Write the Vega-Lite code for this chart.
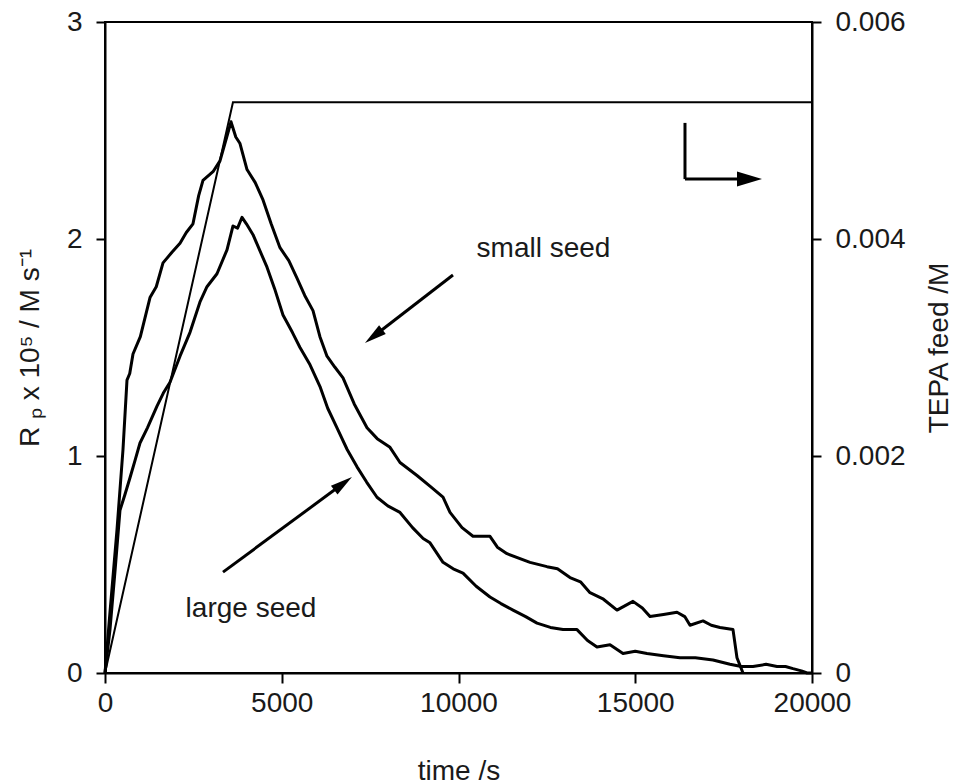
{
  "$schema": "https://vega.github.io/schema/vega-lite/v6.json",
  "width": 707,
  "height": 651,
  "autosize": "none",
  "padding": {"left": 105, "top": 22, "right": 156, "bottom": 111},
  "background": "white",
  "config": {
    "view": {"stroke": "black", "strokeWidth": 2},
    "font": "Liberation Sans",
    "axis": {
      "grid": false,
      "domainColor": "black",
      "domainWidth": 2,
      "tickColor": "black",
      "tickWidth": 2,
      "tickSize": 9,
      "labelFont": "Liberation Sans",
      "labelFontSize": 28,
      "labelColor": "#1a1a1a",
      "titleFont": "Liberation Sans",
      "titleFontSize": 28,
      "titleFontWeight": "normal",
      "titleColor": "#1a1a1a"
    }
  },
  "datasets": {
    "rates": [
      {"series": "small seed", "t": 0, "v": 0},
      {"series": "small seed", "t": 141, "v": 0.28},
      {"series": "small seed", "t": 339, "v": 0.66},
      {"series": "small seed", "t": 509, "v": 1.03},
      {"series": "small seed", "t": 622, "v": 1.35},
      {"series": "small seed", "t": 700, "v": 1.38},
      {"series": "small seed", "t": 792, "v": 1.47},
      {"series": "small seed", "t": 1000, "v": 1.55},
      {"series": "small seed", "t": 1273, "v": 1.73},
      {"series": "small seed", "t": 1450, "v": 1.78},
      {"series": "small seed", "t": 1641, "v": 1.89},
      {"series": "small seed", "t": 1900, "v": 1.94},
      {"series": "small seed", "t": 2122, "v": 1.98},
      {"series": "small seed", "t": 2300, "v": 2.03},
      {"series": "small seed", "t": 2489, "v": 2.07},
      {"series": "small seed", "t": 2650, "v": 2.2},
      {"series": "small seed", "t": 2772, "v": 2.27},
      {"series": "small seed", "t": 3055, "v": 2.31},
      {"series": "small seed", "t": 3253, "v": 2.36},
      {"series": "small seed", "t": 3480, "v": 2.49},
      {"series": "small seed", "t": 3564, "v": 2.54},
      {"series": "small seed", "t": 3700, "v": 2.47},
      {"series": "small seed", "t": 3819, "v": 2.44},
      {"series": "small seed", "t": 4017, "v": 2.32},
      {"series": "small seed", "t": 4250, "v": 2.26},
      {"series": "small seed", "t": 4470, "v": 2.18},
      {"series": "small seed", "t": 4700, "v": 2.07},
      {"series": "small seed", "t": 4950, "v": 1.96},
      {"series": "small seed", "t": 5200, "v": 1.9},
      {"series": "small seed", "t": 5431, "v": 1.82},
      {"series": "small seed", "t": 5650, "v": 1.74},
      {"series": "small seed", "t": 5884, "v": 1.67},
      {"series": "small seed", "t": 6080, "v": 1.55},
      {"series": "small seed", "t": 6280, "v": 1.46},
      {"series": "small seed", "t": 6500, "v": 1.41},
      {"series": "small seed", "t": 6733, "v": 1.36},
      {"series": "small seed", "t": 7050, "v": 1.24},
      {"series": "small seed", "t": 7412, "v": 1.13},
      {"series": "small seed", "t": 7700, "v": 1.08},
      {"series": "small seed", "t": 8062, "v": 1.04},
      {"series": "small seed", "t": 8345, "v": 0.97},
      {"series": "small seed", "t": 8826, "v": 0.91},
      {"series": "small seed", "t": 9200, "v": 0.86},
      {"series": "small seed", "t": 9562, "v": 0.81},
      {"series": "small seed", "t": 9760, "v": 0.74},
      {"series": "small seed", "t": 10100, "v": 0.67},
      {"series": "small seed", "t": 10410, "v": 0.63},
      {"series": "small seed", "t": 10891, "v": 0.63},
      {"series": "small seed", "t": 11100, "v": 0.58},
      {"series": "small seed", "t": 11372, "v": 0.55},
      {"series": "small seed", "t": 12023, "v": 0.51},
      {"series": "small seed", "t": 12504, "v": 0.49},
      {"series": "small seed", "t": 12800, "v": 0.48},
      {"series": "small seed", "t": 13154, "v": 0.44},
      {"series": "small seed", "t": 13450, "v": 0.42},
      {"series": "small seed", "t": 13720, "v": 0.37},
      {"series": "small seed", "t": 14100, "v": 0.34},
      {"series": "small seed", "t": 14484, "v": 0.29},
      {"series": "small seed", "t": 14936, "v": 0.33},
      {"series": "small seed", "t": 15200, "v": 0.3},
      {"series": "small seed", "t": 15417, "v": 0.26},
      {"series": "small seed", "t": 15800, "v": 0.27},
      {"series": "small seed", "t": 16181, "v": 0.28},
      {"series": "small seed", "t": 16400, "v": 0.26},
      {"series": "small seed", "t": 16549, "v": 0.22},
      {"series": "small seed", "t": 16917, "v": 0.24},
      {"series": "small seed", "t": 17150, "v": 0.22},
      {"series": "small seed", "t": 17397, "v": 0.21},
      {"series": "small seed", "t": 17765, "v": 0.2},
      {"series": "small seed", "t": 17878, "v": 0.07},
      {"series": "small seed", "t": 18048, "v": 0},
      {"series": "large seed", "t": 0, "v": 0},
      {"series": "large seed", "t": 141, "v": 0.2},
      {"series": "large seed", "t": 283, "v": 0.47},
      {"series": "large seed", "t": 424, "v": 0.75},
      {"series": "large seed", "t": 560, "v": 0.82},
      {"series": "large seed", "t": 707, "v": 0.9},
      {"series": "large seed", "t": 850, "v": 0.98},
      {"series": "large seed", "t": 990, "v": 1.06},
      {"series": "large seed", "t": 1200, "v": 1.13},
      {"series": "large seed", "t": 1471, "v": 1.23},
      {"series": "large seed", "t": 1650, "v": 1.29},
      {"series": "large seed", "t": 1839, "v": 1.34},
      {"series": "large seed", "t": 2122, "v": 1.46},
      {"series": "large seed", "t": 2405, "v": 1.57},
      {"series": "large seed", "t": 2687, "v": 1.71},
      {"series": "large seed", "t": 2885, "v": 1.78},
      {"series": "large seed", "t": 3168, "v": 1.84},
      {"series": "large seed", "t": 3451, "v": 1.95},
      {"series": "large seed", "t": 3621, "v": 2.06},
      {"series": "large seed", "t": 3750, "v": 2.05},
      {"series": "large seed", "t": 3876, "v": 2.1},
      {"series": "large seed", "t": 4000, "v": 2.07},
      {"series": "large seed", "t": 4187, "v": 2.02},
      {"series": "large seed", "t": 4583, "v": 1.87},
      {"series": "large seed", "t": 4800, "v": 1.77},
      {"series": "large seed", "t": 5035, "v": 1.65},
      {"series": "large seed", "t": 5300, "v": 1.57},
      {"series": "large seed", "t": 5516, "v": 1.5},
      {"series": "large seed", "t": 5800, "v": 1.42},
      {"series": "large seed", "t": 6082, "v": 1.32},
      {"series": "large seed", "t": 6300, "v": 1.22},
      {"series": "large seed", "t": 6563, "v": 1.13},
      {"series": "large seed", "t": 6850, "v": 1.03},
      {"series": "large seed", "t": 7129, "v": 0.95},
      {"series": "large seed", "t": 7400, "v": 0.88},
      {"series": "large seed", "t": 7694, "v": 0.81},
      {"series": "large seed", "t": 8000, "v": 0.77},
      {"series": "large seed", "t": 8345, "v": 0.74},
      {"series": "large seed", "t": 8700, "v": 0.67},
      {"series": "large seed", "t": 9000, "v": 0.62},
      {"series": "large seed", "t": 9194, "v": 0.6},
      {"series": "large seed", "t": 9562, "v": 0.51},
      {"series": "large seed", "t": 9850, "v": 0.48},
      {"series": "large seed", "t": 10127, "v": 0.46},
      {"series": "large seed", "t": 10500, "v": 0.4},
      {"series": "large seed", "t": 10891, "v": 0.35},
      {"series": "large seed", "t": 11200, "v": 0.32},
      {"series": "large seed", "t": 11542, "v": 0.29},
      {"series": "large seed", "t": 11900, "v": 0.26},
      {"series": "large seed", "t": 12221, "v": 0.23},
      {"series": "large seed", "t": 12600, "v": 0.21},
      {"series": "large seed", "t": 12956, "v": 0.2},
      {"series": "large seed", "t": 13352, "v": 0.2},
      {"series": "large seed", "t": 13650, "v": 0.15},
      {"series": "large seed", "t": 13918, "v": 0.12},
      {"series": "large seed", "t": 14286, "v": 0.13},
      {"series": "large seed", "t": 14654, "v": 0.09},
      {"series": "large seed", "t": 15000, "v": 0.1},
      {"series": "large seed", "t": 15332, "v": 0.09},
      {"series": "large seed", "t": 15800, "v": 0.08},
      {"series": "large seed", "t": 16266, "v": 0.07},
      {"series": "large seed", "t": 16700, "v": 0.07},
      {"series": "large seed", "t": 17199, "v": 0.06},
      {"series": "large seed", "t": 17680, "v": 0.04},
      {"series": "large seed", "t": 18000, "v": 0.03},
      {"series": "large seed", "t": 18331, "v": 0.03},
      {"series": "large seed", "t": 18700, "v": 0.04},
      {"series": "large seed", "t": 19010, "v": 0.03},
      {"series": "large seed", "t": 19250, "v": 0.03},
      {"series": "large seed", "t": 19463, "v": 0.02},
      {"series": "large seed", "t": 19700, "v": 0.01},
      {"series": "large seed", "t": 19859, "v": 0},
      {"series": "large seed", "t": 20000, "v": 0}
    ],
    "feed": [
      {"t": 0, "feed": 0},
      {"t": 3620, "feed": 0.00526},
      {"t": 20000, "feed": 0.00526}
    ],
    "labels": [
      {"label": "small seed", "t": 12405, "v": 1.917},
      {"label": "large seed", "t": 4130, "v": 0.258}
    ],
    "arrowLines": [
      {"name": "small seed", "t": 9844, "v": 1.834, "t2": 7601, "v2": 1.552},
      {"name": "large seed", "t": 3338, "v": 0.465, "t2": 6735, "v2": 0.873},
      {"name": "feed vertical", "t": 16407, "v": 2.535, "t2": 16407, "v2": 2.276},
      {"name": "feed horizontal", "t": 16407, "v": 2.276, "t2": 18232, "v2": 2.276}
    ],
    "headSmall": [{"t": 7601, "v": 1.552}],
    "headLarge": [{"t": 6735, "v": 0.873}],
    "headFeed": [{"t": 18232, "v": 2.276}]
  },
  "layer": [
    {
      "layer": [
        {
          "data": {"name": "rates"},
          "mark": {"type": "line", "color": "black", "strokeWidth": 3, "strokeJoin": "round"},
          "encoding": {
            "x": {
              "field": "t", "type": "quantitative",
              "scale": {"domain": [0, 20000], "nice": false},
              "axis": {"values": [0, 5000, 10000, 15000, 20000], "title": "time /s", "tickSize": 10, "labelPadding": 6, "titlePadding": 40, "format": "d", "labelFlush": false}
            },
            "y": {
              "field": "v", "type": "quantitative",
              "scale": {"domain": [0, 3], "nice": false},
              "axis": {"values": [0, 1, 2, 3], "format": "d", "title": "R ₚ x 10⁵ / M s⁻¹", "orient": "left", "labelPadding": 14, "titlePadding": 22}
            },
            "detail": {"field": "series"}
          }
        },
        {
          "data": {"name": "arrowLines"},
          "mark": {"type": "rule", "color": "black", "strokeWidth": 3},
          "encoding": {
            "x": {"field": "t", "type": "quantitative"},
            "y": {"field": "v", "type": "quantitative"},
            "x2": {"field": "t2"},
            "y2": {"field": "v2"}
          }
        },
        {
          "data": {"name": "headSmall"},
          "mark": {"type": "point", "filled": true, "color": "black", "opacity": 1, "shape": "M0,-1L0.5,1L-0.5,1Z", "size": 484, "angle": 232.7},
          "encoding": {
            "x": {"field": "t", "type": "quantitative"},
            "y": {"field": "v", "type": "quantitative"}
          }
        },
        {
          "data": {"name": "headLarge"},
          "mark": {"type": "point", "filled": true, "color": "black", "opacity": 1, "shape": "M0,-1L0.5,1L-0.5,1Z", "size": 484, "angle": 53.6},
          "encoding": {
            "x": {"field": "t", "type": "quantitative"},
            "y": {"field": "v", "type": "quantitative"}
          }
        },
        {
          "data": {"name": "headFeed"},
          "mark": {"type": "point", "filled": true, "color": "black", "opacity": 1, "shape": "M1,0L-1,-0.6L-1,0.6Z", "size": 625},
          "encoding": {
            "x": {"field": "t", "type": "quantitative"},
            "y": {"field": "v", "type": "quantitative"}
          }
        },
        {
          "data": {"name": "labels"},
          "mark": {"type": "text", "font": "Liberation Sans", "fontSize": 28, "color": "#1a1a1a", "align": "center", "baseline": "alphabetic"},
          "encoding": {
            "x": {"field": "t", "type": "quantitative"},
            "y": {"field": "v", "type": "quantitative"},
            "text": {"field": "label"}
          }
        }
      ]
    },
    {
      "data": {"name": "feed"},
      "mark": {"type": "line", "color": "black", "strokeWidth": 2},
      "encoding": {
        "x": {"field": "t", "type": "quantitative"},
        "y": {
          "field": "feed", "type": "quantitative",
          "scale": {"domain": [0, 0.006], "nice": false},
          "axis": {"orient": "right", "values": [0, 0.002, 0.004, 0.006], "labelExpr": "datum.value == 0 ? '0' : format(datum.value, '.3f')", "title": "TEPA feed /M", "titleAngle": 270, "labelPadding": 14, "titlePadding": 48}
        }
      }
    }
  ],
  "resolve": {"scale": {"y": "independent"}}
}
